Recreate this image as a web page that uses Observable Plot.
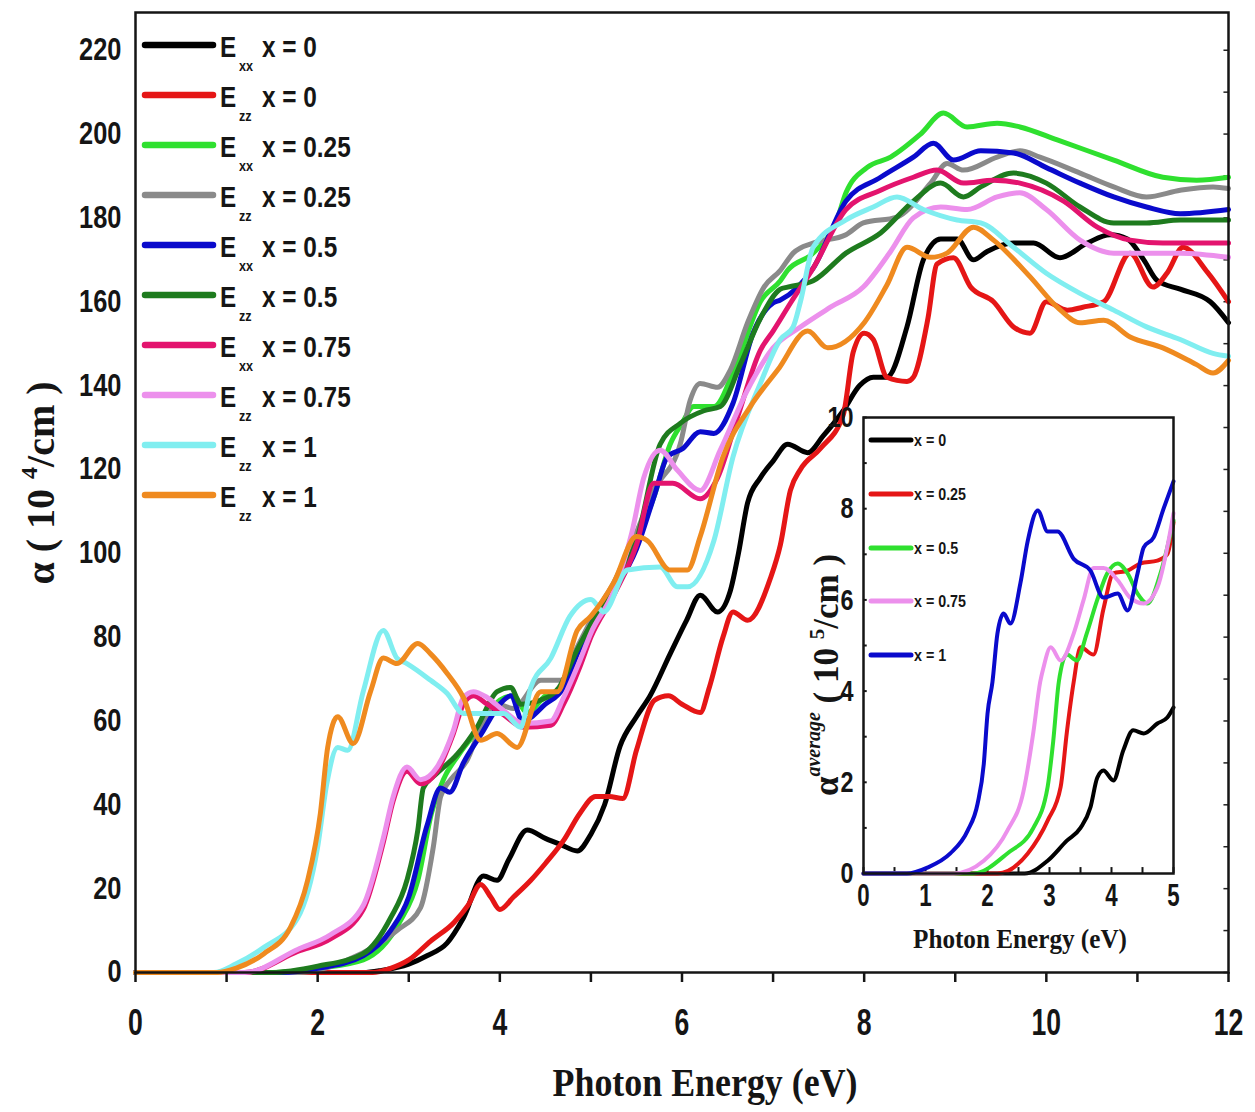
<!DOCTYPE html>
<html><head><meta charset="utf-8">
<script src="https://cdn.jsdelivr.net/npm/d3@7"></script>
<script src="https://cdn.jsdelivr.net/npm/@observablehq/plot@0.6"></script>
<style>
body{margin:0;background:#fff;}
#wrap{position:relative;width:1255px;height:1112px;overflow:hidden;background:#fff;}
#wrap svg{position:absolute;}
</style></head><body><div id="wrap"></div>
<script>
const SANS = "'Liberation Sans',Arial,sans-serif";
const SERIF = "'Liberation Serif','Times New Roman',serif";

// ---------- main chart data: alpha (10^4/cm) vs photon energy (eV) ----------
const exx0 = [[0,0],[2.5,0],[2.7,0.5],[3.0,2],[3.2,4],[3.42,7],[3.6,13],[3.82,23],[3.97,22],[4.1,27],[4.3,34],[4.5,32],[4.67,30.5],[4.85,29],[5.0,33],[5.15,40],[5.32,54],[5.5,61],[5.65,66],[5.87,76],[6.05,84],[6.2,90],[6.39,86],[6.53,91],[6.62,100],[6.72,112],[6.86,118],[7.0,122],[7.16,126],[7.38,124],[7.55,128],[7.77,134],[7.95,140],[8.1,142],[8.25,142],[8.47,154],[8.65,170],[8.84,175],[9.02,175],[9.2,170],[9.35,172],[9.64,174],[9.86,174],[10.15,170.5],[10.45,174],[10.7,176],[10.89,175],[11.07,170],[11.22,165],[11.47,163],[11.8,160],[12,155]];
const ezz0 = [[0,0],[2.6,0],[2.8,1],[3.0,3],[3.24,7.5],[3.5,12],[3.65,16],[3.79,21],[3.9,18],[4.0,15],[4.15,18],[4.34,22],[4.5,26],[4.7,31.5],[4.88,38],[5.05,42],[5.2,42],[5.35,41.5],[5.5,53],[5.7,65],[5.85,66],[6.0,64],[6.2,62],[6.3,68],[6.45,80],[6.56,86],[6.72,84],[6.97,94],[7.08,102],[7.19,115],[7.3,120],[7.52,125],[7.77,133],[7.88,148],[8.0,152.5],[8.1,151],[8.25,142],[8.47,141],[8.54,142],[8.7,156],[8.8,169],[8.98,170.5],[9.17,163.5],[9.42,160],[9.64,154],[9.82,152.5],[10.0,160],[10.23,158],[10.4,158.7],[10.63,160],[10.92,171.6],[11.17,163.5],[11.33,167],[11.5,173],[11.77,167],[12,160]];
const exx025 = [[0,0],[1.5,0],[2.0,1],[2.5,3],[2.9,12],[3.1,22],[3.25,38],[3.38,46],[3.55,52],[3.8,59],[4.0,65],[4.15,66],[4.3,62],[4.5,66],[4.7,68],[4.85,76],[5.0,83],[5.25,92],[5.5,103],[5.7,114],[5.87,126],[6.0,131],[6.13,135],[6.35,135],[6.61,146],[6.86,160],[7.08,165],[7.16,167.5],[7.44,171.6],[7.7,179.5],[7.8,186],[8.03,192],[8.29,194.5],[8.62,200],[8.87,205],[9.13,201.7],[9.46,202.6],[9.71,201.7],[10.12,198.6],[10.74,193.8],[11.28,189.7],[11.65,189],[12,189.7]];
const ezz025 = [[0,0],[1.8,0],[2.33,3],[2.87,10],[3.13,15.5],[3.27,30],[3.35,42],[3.46,46],[3.64,50.6],[3.79,58.5],[3.97,64],[4.15,63],[4.45,69.7],[4.67,69.7],[4.85,77.6],[5.0,84],[5.25,93],[5.5,105],[5.69,115],[5.98,126],[6.09,136.5],[6.2,140.5],[6.39,139.6],[6.53,143.7],[6.72,155],[6.9,163.5],[7.08,167.5],[7.22,171.6],[7.44,174],[7.8,176],[7.99,178.8],[8.36,180.2],[8.73,188.3],[8.91,193],[9.09,191.4],[9.46,194.5],[9.71,196],[9.93,194.5],[10.37,190.7],[10.74,187.4],[11.1,185],[11.47,186.6],[11.83,187.4],[12,187]];
const exx05 = [[0,0],[1.6,0],[2.0,1],[2.5,4],[2.8,10],[3.0,18],[3.2,35],[3.35,44],[3.45,43],[3.6,50],[3.8,57],[4.0,64],[4.12,66],[4.25,60],[4.5,64],[4.7,68],[4.85,76],[5.0,83],[5.25,91],[5.5,101],[5.7,114],[5.84,123],[6.01,125],[6.2,129],[6.35,128.6],[6.56,135.8],[6.78,152.5],[7.0,159.7],[7.08,160.4],[7.44,168],[7.8,184],[8.18,189.7],[8.54,194.5],[8.76,197.8],[8.98,193.8],[9.28,196],[9.64,195.5],[10.0,192],[10.37,188.3],[10.74,185],[11.1,182.6],[11.47,181],[12,182]];
const ezz05 = [[0,0],[1.5,0],[2.0,1.5],[2.5,4.5],[2.8,13],[2.98,22],[3.1,34],[3.16,44],[3.31,47.5],[3.53,52],[3.75,58.5],[3.97,67],[4.12,68],[4.23,64],[4.45,65],[4.65,68],[4.85,77],[5.0,83],[5.25,92],[5.5,103],[5.76,126],[5.98,131],[6.24,134],[6.42,135],[6.64,145],[6.86,156],[7.08,163],[7.16,163.5],[7.44,165],[7.8,171.6],[8.18,176.4],[8.54,184],[8.84,188.3],[9.09,185],[9.28,187.4],[9.64,190.7],[10.0,188.3],[10.37,182.6],[10.74,178.8],[11.1,178.8],[11.47,179.5],[12,179.5]];
const exx075 = [[0,0],[1.2,0],[1.78,5],[2.14,8],[2.5,15],[2.72,31],[2.83,41],[2.98,48],[3.13,45],[3.31,48],[3.49,57],[3.6,64],[3.71,66],[3.86,64],[4.04,61.5],[4.26,58.5],[4.56,59],[4.7,64],[4.88,73],[5.0,80],[5.25,90],[5.5,102],[5.69,116.7],[5.9,116.7],[6.2,113],[6.39,118],[6.61,132.5],[6.86,148.4],[7.0,153],[7.2,160],[7.44,168],[7.8,182],[8.18,186.6],[8.54,189.7],[8.8,191.4],[9.09,188.3],[9.42,189],[9.71,188.3],[10.19,184],[10.56,177.8],[10.92,174.7],[11.28,174],[11.65,174],[12,174]];
const ezz075 = [[0,0],[1.2,0],[1.78,5.5],[2.14,9],[2.5,16],[2.72,32],[2.83,42],[2.98,49],[3.13,46],[3.31,49],[3.49,57.7],[3.6,65.6],[3.71,67],[3.86,65.6],[4.04,62.5],[4.26,59.4],[4.56,60],[4.7,65.6],[4.88,74.5],[5.0,81],[5.25,91],[5.45,105],[5.58,118],[5.76,124.6],[5.95,119.8],[6.2,115],[6.42,124.6],[6.72,139],[7.0,149],[7.3,154],[7.63,158.7],[7.99,163.5],[8.29,172],[8.54,180],[8.84,182.6],[9.13,182],[9.46,185],[9.71,186],[10.0,182],[10.37,174.7],[10.74,171.6],[11.1,171.6],[11.47,171.6],[12,170.6]];
const ezz1a = [[0,0],[0.86,0],[1.1,2],[1.41,6],[1.78,13],[2.0,30],[2.1,45],[2.22,53.7],[2.33,53],[2.5,67],[2.72,81.6],[2.87,75],[2.98,73.7],[3.24,69.7],[3.42,66.6],[3.6,61.8],[3.79,61.8],[4.04,61.8],[4.23,58.5],[4.34,68],[4.56,75],[4.77,85],[5.0,89],[5.14,86],[5.4,96],[5.76,96.7],[5.95,92],[6.06,92],[6.35,103],[6.56,123],[6.86,140.5],[7.08,151],[7.22,154],[7.3,160],[7.44,173],[7.8,179.5],[8.1,182.6],[8.36,185],[8.65,182],[9.02,179.5],[9.28,178.8],[9.64,173],[10.0,166.8],[10.37,162],[10.74,158],[11.1,154],[11.47,151],[11.83,147.7],[12,147]];
const ezz1b = [[0,0],[0.9,0],[1.1,1],[1.41,4.5],[1.7,10.7],[1.89,22],[2.03,38],[2.11,53.7],[2.22,61],[2.39,54.6],[2.58,67],[2.72,75],[2.87,73.7],[3.1,78.5],[3.24,76],[3.42,71.4],[3.6,65.6],[3.79,55.4],[3.97,57],[4.19,53.7],[4.45,67],[4.63,67],[4.85,81.6],[5.0,85],[5.25,93],[5.5,104],[5.62,103],[5.87,96],[6.06,96],[6.2,104],[6.45,123],[6.75,135],[7.05,143.7],[7.38,153],[7.6,149],[8.0,155],[8.25,164],[8.47,173],[8.73,170.6],[8.91,171.6],[9.2,177.8],[9.42,174.7],[9.82,166],[10.12,158.7],[10.37,155],[10.63,155.6],[10.92,151.6],[11.28,149],[11.65,145],[11.83,143],[12,146]];

const mainSeries = [exx0, ezz0, exx025, ezz025, exx05, ezz05, exx075, ezz075, ezz1a, ezz1b];
const mainColors = ["#000000","#e51616","#2fe02f","#8a8a8a","#0a0acc","#1e7b1e","#e3146e","#ec90ec","#80eef0","#ef8a1f"];
const mainPol = ["xx","zz","xx","zz","xx","zz","xx","zz","zz","zz"];
const mainConc = ["x = 0","x = 0","x = 0.25","x = 0.25","x = 0.5","x = 0.5","x = 0.75","x = 0.75","x = 1","x = 1"];
const mainXTicks = [0,1,2,3,4,5,6,7,8,9,10,11,12];
const mainYTicks = [0,20,40,60,80,100,120,140,160,180,200,220];

// ---------- inset data: alpha average (10^5/cm) ----------
const avg0 = [[0,0],[2.6,0],[2.97,0.28],[3.28,0.72],[3.5,1.0],[3.66,1.45],[3.77,2.1],[3.87,2.26],[4.03,2.04],[4.19,2.7],[4.35,3.14],[4.52,3.07],[4.74,3.29],[4.9,3.42],[5.0,3.64]];
const avg025 = [[0,0],[2.16,0],[2.65,0.44],[2.97,1.16],[3.18,1.9],[3.28,3.1],[3.39,4.2],[3.5,4.96],[3.71,4.8],[3.87,5.8],[4.03,6.58],[4.26,6.64],[4.47,6.8],[4.74,6.86],[4.9,7.0],[5.0,7.7]];
const avg05 = [[0,0],[1.77,0],[2.32,0.44],[2.74,1.0],[2.97,1.9],[3.06,2.9],[3.15,4.2],[3.28,4.8],[3.44,4.67],[3.6,5.26],[3.77,6.0],[3.93,6.58],[4.1,6.8],[4.26,6.58],[4.42,6.14],[4.58,5.92],[4.79,6.58],[5.0,7.74]];
const avg075 = [[0,0],[1.45,0],[1.94,0.28],[2.32,0.94],[2.58,1.8],[2.74,3.1],[2.85,4.2],[2.9,4.5],[3.02,4.96],[3.18,4.67],[3.39,5.26],[3.55,6.0],[3.71,6.7],[3.87,6.7],[4.1,6.43],[4.3,6.05],[4.52,5.92],[4.74,6.27],[5.0,7.9]];
const avg1 = [[0,0],[0.7,0],[1.03,0.13],[1.4,0.44],[1.68,0.94],[1.84,1.53],[1.94,2.4],[2.0,3.5],[2.08,4.2],[2.16,5.26],[2.26,5.7],[2.37,5.48],[2.53,6.36],[2.65,7.3],[2.81,7.96],[2.97,7.5],[3.13,7.5],[3.39,6.9],[3.66,6.64],[3.87,6.05],[4.1,6.14],[4.26,5.77],[4.42,6.58],[4.52,7.15],[4.68,7.37],[4.84,8.0],[5.0,8.6]];
const insetSeries = [avg0, avg025, avg05, avg075, avg1];
const insetColors = ["#000000","#e51616","#2fe02f","#ec90ec","#0a0acc"];
const insetLabels = ["x = 0","x = 0.25","x = 0.5","x = 0.75","x = 1"];
const insetXTicks = [0,1,2,3,4,5];
const insetXMinor = [0,0.5,1,1.5,2,2.5,3,3.5,4,4.5,5];
const insetYTicks = [0,2,4,6,8,10];
const insetYMinor = [0,1,2,3,4,5,6,7,8,9,10];

const wrap = document.getElementById("wrap");

// squeeze text horizontally to imitate the condensed face of the original
function squeeze(root, selector, factor) {
  root.querySelectorAll(selector).forEach(t => {
    const L = t.getComputedTextLength();
    if (L > 0) {
      t.setAttribute("textLength", (L * factor).toFixed(1));
      t.setAttribute("lengthAdjust", "spacingAndGlyphs");
    }
  });
}

// ---------- main plot ----------
const mainPlot = Plot.plot({
  width: 1255, height: 1112,
  marginLeft: 135, marginRight: 27, marginTop: 12, marginBottom: 140,
  x: {domain: [0, 12]},
  y: {domain: [0, 229]},
  style: {fontFamily: SANS, fontWeight: "bold", color: "#151515", background: "transparent"},
  marks: [
    Plot.ruleY(d3.range(0, 230, 10), {y: d => d, x1: 11.95, x2: 12, stroke: "#222", strokeWidth: 1.5}),
    ...mainSeries.map((s, i) => Plot.line(s, {x: d => d[0], y: d => d[1], stroke: mainColors[i], strokeWidth: 5, curve: "monotone-x", strokeLinejoin: "round", strokeLinecap: "round"})),
    Plot.frame({stroke: "#151515", strokeWidth: 2.5}),
    Plot.axisX({ticks: mainXTicks, tickSize: 10, tickPadding: 26, tickFormat: d => d % 2 ? "" : String(d), fontSize: 37, strokeWidth: 2.5, label: null}),
    Plot.axisY({ticks: mainYTicks, tickSize: 0, tickPadding: 14, fontSize: 31, label: null})
  ]
});
mainPlot.style.left = "0px"; mainPlot.style.top = "0px";
wrap.appendChild(mainPlot);
squeeze(mainPlot, 'g[aria-label="x-axis tick label"] text', 0.72);
squeeze(mainPlot, 'g[aria-label="y-axis tick label"] text', 0.82);

// ---------- inset plot ----------
const insetPlot = Plot.plot({
  width: 410, height: 575,
  marginLeft: 73, marginRight: 27, marginTop: 27, marginBottom: 92,
  x: {domain: [0, 5]},
  y: {domain: [0, 10]},
  style: {fontFamily: SANS, fontWeight: "bold", color: "#151515", background: "transparent"},
  marks: [
    Plot.frame({fill: "white"}),
    Plot.ruleX(insetXMinor, {x: d => d, y1: 0, y2: 0.13, stroke: "#151515", strokeWidth: 2}),
    Plot.ruleY(insetYMinor, {y: d => d, x1: 0, x2: 0.06, stroke: "#151515", strokeWidth: 2}),
    ...insetSeries.map((s, i) => Plot.line(s, {x: d => d[0], y: d => d[1], stroke: insetColors[i], strokeWidth: 4, curve: "monotone-x", strokeLinejoin: "round"})),
    Plot.frame({stroke: "#151515", strokeWidth: 2.5}),
    Plot.axisX({ticks: insetXTicks, tickSize: 0, tickPadding: 10, tickFormat: d => String(d), fontSize: 31, label: null}),
    Plot.axisY({ticks: insetYTicks, tickSize: 0, tickPadding: 10, tickFormat: d => String(d), fontSize: 30, label: null})
  ]
});
insetPlot.style.left = "790px"; insetPlot.style.top = "390px";
wrap.appendChild(insetPlot);
squeeze(insetPlot, 'g[aria-label="x-axis tick label"] text', 0.72);
squeeze(insetPlot, 'g[aria-label="y-axis tick label"] text', 0.78);

// ---------- overlay: legends and axis titles ----------
const ov = d3.select(wrap).append("svg")
  .attr("width", 1255).attr("height", 1112)
  .style("left", "0px").style("top", "0px")
  .style("pointer-events", "none");

mainSeries.forEach((s, i) => {
  const y = 45 + 50 * i;
  ov.append("line").attr("x1", 145).attr("x2", 213).attr("y1", y).attr("y2", y)
    .attr("stroke", mainColors[i]).attr("stroke-width", 6.5).attr("stroke-linecap", "round");
  ov.append("text").attr("class", "sq").attr("x", 220).attr("y", y + 12).attr("font-family", SANS).attr("font-weight", "bold")
    .attr("font-size", 29).attr("fill", "#151515").text("E");
  ov.append("text").attr("class", "sq").attr("x", 239).attr("y", y + 26).attr("font-family", SANS).attr("font-weight", "bold")
    .attr("font-size", 15).attr("fill", "#151515").text(mainPol[i]);
  ov.append("text").attr("class", "sq").attr("x", 262).attr("y", y + 12).attr("font-family", SANS).attr("font-weight", "bold")
    .attr("font-size", 29).attr("fill", "#151515").text(mainConc[i]);
});

const insetRows = [440, 494, 548, 601, 655];
insetSeries.forEach((s, i) => {
  const y = insetRows[i];
  ov.append("line").attr("x1", 871).attr("x2", 911).attr("y1", y).attr("y2", y)
    .attr("stroke", insetColors[i]).attr("stroke-width", 5).attr("stroke-linecap", "round");
  ov.append("text").attr("class", "sq").attr("x", 914).attr("y", y + 6).attr("font-family", SANS).attr("font-weight", "bold")
    .attr("font-size", 17).attr("fill", "#151515").text(insetLabels[i]);
});
squeeze(ov.node(), "text.sq", 0.84);

// main x title
ov.append("text").attr("x", 705).attr("y", 1096).attr("text-anchor", "middle")
  .attr("font-family", SERIF).attr("font-weight", "bold").attr("font-size", 40)
  .attr("textLength", 305).attr("lengthAdjust", "spacingAndGlyphs")
  .attr("fill", "#151515").text("Photon Energy (eV)");

// main y title
const yt = ov.append("text").attr("transform", "translate(54,483) rotate(-90)").attr("text-anchor", "middle")
  .attr("font-family", SERIF).attr("font-weight", "bold").attr("font-size", 40).attr("fill", "#151515");
yt.append("tspan").text("α ( 10 ");
yt.append("tspan").attr("font-size", 24).attr("dy", -17).text("4");
yt.append("tspan").attr("dy", 17).text("/cm )");

// inset x title
ov.append("text").attr("x", 1020).attr("y", 948).attr("text-anchor", "middle")
  .attr("font-family", SERIF).attr("font-weight", "bold").attr("font-size", 28)
  .attr("textLength", 214).attr("lengthAdjust", "spacingAndGlyphs")
  .attr("fill", "#151515").text("Photon Energy (eV)");

// inset y title
const it = ov.append("text").attr("transform", "translate(838,675) rotate(-90)").attr("text-anchor", "middle")
  .attr("font-family", SERIF).attr("font-weight", "bold").attr("font-size", 35).attr("fill", "#151515");
it.append("tspan").text("α");
it.append("tspan").attr("font-size", 20).attr("font-style", "italic").attr("dy", -18).text("average");
it.append("tspan").attr("dy", 18).text(" ( 10 ");
it.append("tspan").attr("font-size", 21).attr("dy", -14).text("5");
it.append("tspan").attr("dy", 14).text("/cm )");
</script></body></html>
